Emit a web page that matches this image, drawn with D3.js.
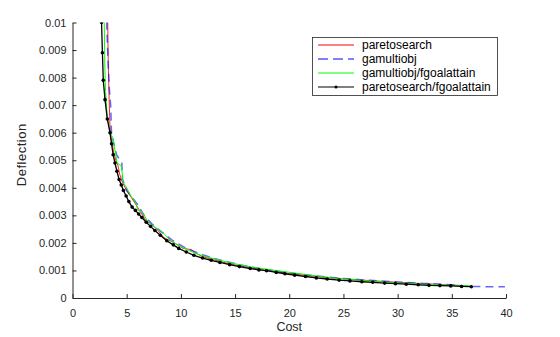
<!DOCTYPE html>
<html>
<head>
<meta charset="utf-8">
<script src="https://cdn.jsdelivr.net/npm/d3@7"></script>
<style>
  body { margin: 0; background: #fff; }
  svg { display: block; font-family: "Liberation Sans", Arial, sans-serif; }
</style>
</head>
<body>
<svg id="chart" width="560" height="337"></svg>
<script>
// paretosearch (red)
const psCost = [3.20, 3.25, 3.30, 3.38, 3.46, 3.6, 3.8, 4.0, 4.2, 4.35, 4.6, 5.0, 5.5, 6.0, 6.3, 6.8, 7.2, 7.5, 7.9, 8.4, 8.9, 9.4, 9.9, 10.2, 10.6, 11.0, 11.4, 12.0, 13.0, 14.5, 16.0, 18.0, 20.0, 22.5, 25.0, 27.5, 30.0, 32.5, 35.0, 36.5];
const psDefl = [0.0105, 0.0100, 0.0085, 0.0072, 0.0062, 0.0057, 0.0053, 0.0050, 0.0048, 0.0045, 0.0042, 0.0039, 0.0036, 0.0033, 0.0031, 0.0028, 0.0027, 0.0026, 0.00245, 0.0022, 0.0021, 0.0020, 0.00188, 0.0018, 0.00178, 0.00175, 0.00162, 0.00150, 0.00139, 0.00124, 0.00112, 0.00099, 0.00089, 0.00078, 0.00070, 0.00063, 0.00057, 0.00052, 0.00047, 0.00044];

// gamultiobj (blue dashed)
const gaCost = [3.12, 3.18, 3.28, 3.40, 3.52, 3.60, 3.75, 4.07, 4.38, 4.55, 4.62, 5.0, 5.6, 6.0, 6.6, 7.3, 8.2, 9.2, 10.5, 12.0, 13.5, 15.5, 17.5, 20.0, 22.5, 25.0, 27.5, 30.0, 32.5, 35.0, 36.8, 38.5, 39.9];
const gaDefl = [0.0105, 0.0097, 0.0086, 0.0076, 0.0070, 0.0060, 0.0057, 0.0052, 0.0050, 0.0049, 0.0043, 0.0039, 0.0036, 0.0034, 0.0030, 0.0027, 0.0024, 0.0021, 0.00180, 0.00157, 0.00139, 0.00120, 0.00105, 0.00091, 0.00080, 0.00071, 0.00064, 0.00058, 0.00053, 0.00048, 0.00042, 0.00041, 0.00041];

// gamultiobj/fgoalattain (green)
const gfCost = [2.90, 2.93, 2.98, 3.05, 3.20, 3.42, 3.60, 3.75, 3.85, 4.0, 4.1, 4.5, 4.6, 4.65, 5.0, 5.4, 5.9, 6.0, 6.5, 6.9, 7.5, 8.3, 9.0, 9.8, 10.6, 11.5, 12.5, 13.5, 15.0, 16.5, 18.0, 19.5, 21.0, 22.5, 24.0, 25.5, 27.0, 28.5, 30.0, 31.5, 33.0, 34.5, 36.0, 36.8];
const gfDefl = [0.0105, 0.0100, 0.0085, 0.0075, 0.0066, 0.0061, 0.0059, 0.0058, 0.0055, 0.0052, 0.0049, 0.0048, 0.0045, 0.0042, 0.0040, 0.0037, 0.0034, 0.0032, 0.0031, 0.0028, 0.0026, 0.0024, 0.0021, 0.0019, 0.00175, 0.0016, 0.00148, 0.00138, 0.00124, 0.00113, 0.00104, 0.00096, 0.00088, 0.00080, 0.00073, 0.00068, 0.00063, 0.00059, 0.00055, 0.00052, 0.00049, 0.00047, 0.00045, 0.00044];

// paretosearch/fgoalattain (black with dots)
const pfCost = [2.66, 2.68, 2.76, 2.84, 3.0, 3.21, 3.46, 3.6, 3.75, 3.92, 4.1, 4.3, 4.5, 4.7, 4.95, 5.2, 5.5, 5.8, 6.1, 6.4, 6.8, 7.2, 7.6, 8.1, 8.7, 9.3, 9.8, 10.5, 11.2, 12.0, 12.8, 13.6, 14.5, 15.4, 16.4, 17.2, 17.9, 18.8, 19.6, 20.5, 21.5, 22.5, 23.5, 24.6, 25.6, 26.7, 27.7, 28.8, 29.8, 30.8, 31.9, 32.9, 33.9, 34.9, 35.9, 36.8];
const pfDefl = [0.0105, 0.0100, 0.0089, 0.0079, 0.0072, 0.0065, 0.0060, 0.0056, 0.0052, 0.0049, 0.0046, 0.0043, 0.0041, 0.0039, 0.0037, 0.0035, 0.0033, 0.00318, 0.00305, 0.00292, 0.00275, 0.0026, 0.00245, 0.00228, 0.00208, 0.00193, 0.00180, 0.00167, 0.00155, 0.00145, 0.00137, 0.00129, 0.00121, 0.00114, 0.00107, 0.00102, 0.00099, 0.00093, 0.00088, 0.00083, 0.00078, 0.00073, 0.00069, 0.00065, 0.00062, 0.00059, 0.00057, 0.00054, 0.00052, 0.00050, 0.00048, 0.00046, 0.00045, 0.00044, 0.00042, 0.00041];

const xTicks = [0, 5, 10, 15, 20, 25, 30, 35, 40];
const yTicks = [0, 0.001, 0.002, 0.003, 0.004, 0.005, 0.006, 0.007, 0.008, 0.009, 0.01];
const yTickLabels = ["0", "0.001", "0.002", "0.003", "0.004", "0.005", "0.006", "0.007", "0.008", "0.009", "0.01"];
const legendNames = ["paretosearch", "gamultiobj", "gamultiobj/fgoalattain", "paretosearch/fgoalattain"];

const axisColor = "#262626";
const svg = d3.select("#chart");

const x = d3.scaleLinear().domain([0, 40]).range([72.5, 506]);
const y = d3.scaleLinear().domain([0, 0.01]).range([298, 22.5]);

svg.append("defs").append("clipPath").attr("id", "clip")
    .append("rect")
    .attr("x", x(0)).attr("y", y(0.01))
    .attr("width", x(40) - x(0)).attr("height", y(0) - y(0.01));

// axes
const xAxis = d3.axisBottom(x).tickValues(xTicks).tickSizeInner(-4).tickSizeOuter(0).tickPadding(11);
const yAxis = d3.axisLeft(y).tickValues(yTicks).tickFormat((d, i) => yTickLabels[i]).tickSizeInner(-4).tickSizeOuter(0).tickPadding(6);

const gx = svg.append("g").attr("transform", "translate(0,298)").call(xAxis);
const gy = svg.append("g").attr("transform", "translate(72.5,0)").call(yAxis);

[gx, gy].forEach(g => {
    g.select(".domain").attr("stroke", axisColor);
    g.selectAll(".tick line").attr("stroke", axisColor);
    g.selectAll(".tick text").attr("fill", axisColor).style("font-size", "11px")
        .style("font-family", "'Liberation Sans', Arial, sans-serif");
});

svg.append("text")
    .attr("x", x(20)).attr("y", 331)
    .attr("text-anchor", "middle")
    .attr("fill", axisColor)
    .style("font-size", "12.5px")
    .text("Cost");

svg.append("text")
    .attr("transform", "translate(26," + y(0.0052) + ") rotate(-90)")
    .attr("text-anchor", "middle")
    .attr("fill", axisColor)
    .style("font-size", "13px")
    .style("letter-spacing", "0.5px")
    .text("Deflection");

// series
const series = [
    { cost: psCost, defl: psDefl, color: "#ff0000", dash: null, width: 1, opacity: 0.85 },
    { cost: gaCost, defl: gaDefl, color: "#0000ff", dash: "8,5", width: 1.5, opacity: 0.6 },
    { cost: gfCost, defl: gfDefl, color: "#00ff00", dash: null, width: 1, opacity: 1 },
    { cost: pfCost, defl: pfDefl, color: "#000000", dash: null, width: 1.3, opacity: 1 }
];

const line = d3.line().x(d => x(d[0])).y(d => y(d[1]));
const plot = svg.append("g").attr("clip-path", "url(#clip)");

series.forEach(s => {
    const pts = s.cost.map((c, i) => [c, s.defl[i]]);
    plot.append("path")
        .attr("d", line(pts))
        .attr("fill", "none")
        .attr("stroke", s.color)
        .attr("stroke-width", s.width)
        .attr("stroke-opacity", s.opacity)
        .attr("stroke-dasharray", s.dash);
});

plot.selectAll("circle.dot")
    .data(pfCost.map((c, i) => [c, pfDefl[i]]))
    .enter().append("circle")
    .attr("class", "dot")
    .attr("cx", d => x(d[0]))
    .attr("cy", d => y(d[1]))
    .attr("r", 1.8)
    .attr("fill", "#000");

// legend
const lg = svg.append("g");
lg.append("rect")
    .attr("x", 312.5).attr("y", 37.5)
    .attr("width", 185).attr("height", 58)
    .attr("fill", "#fff")
    .attr("stroke", axisColor)
    .attr("stroke-width", 0.8);

legendNames.forEach((name, i) => {
    const s = series[i];
    const ly = 45 + i * 14;
    lg.append("line")
        .attr("x1", 318).attr("x2", 354)
        .attr("y1", ly).attr("y2", ly)
        .attr("stroke", s.color)
        .attr("stroke-width", 1)
        .attr("stroke-dasharray", s.dash ? "10,5" : null);
    if (i === 3) {
        lg.append("circle").attr("cx", 336).attr("cy", ly).attr("r", 1.5).attr("fill", "#000");
    }
    lg.append("text")
        .attr("x", 362).attr("y", ly + 4)
        .attr("fill", "#000")
        .style("font-size", "12px")
        .text(name);
});
</script>
</body>
</html>
